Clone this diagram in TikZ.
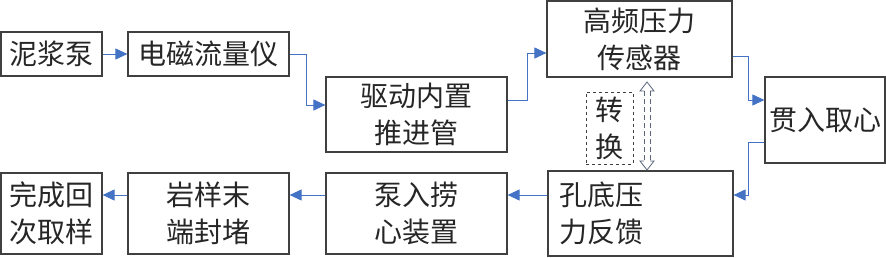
\documentclass[tikz,border=0pt]{standalone}
\usepackage{fontspec}
\newfontfamily\cjk{Noto Sans CJK SC}
\usetikzlibrary{arrows.meta}
\definecolor{conncol}{RGB}{68,114,196}
\definecolor{boxcol}{RGB}{64,64,64}
\definecolor{dblcol}{RGB}{90,100,125}
\tikzset{
  box/.style={draw=boxcol, line width=1.2pt, fill=white, inner sep=3pt, align=center,
    font=\cjk\fontsize{28}{37}\selectfont, text=black!85},
  conn/.style={draw=conncol, line width=1pt, -{Triangle[length=12pt,width=11pt]}},
  dashbox/.style={draw=boxcol, dashed, line width=0.9pt, align=center,
    font=\cjk\fontsize{28}{37}\selectfont, text=black!85},
  dbl/.style={draw=dblcol, line width=0.8pt}
}
\begin{document}
\begin{tikzpicture}[x=1pt,y=-1pt]
\useasboundingbox (0,0) rectangle (886,257);
\node[box, minimum width=101pt, minimum height=44pt] (pump) at (51.5,54) {泥浆泵};
\node[box, minimum width=161pt, minimum height=44pt] (flow) at (208.5,54) {电磁流量仪};
\node[box, minimum width=181pt, minimum height=75pt] (drive) at (416.5,114.5) {驱动内置\\推进管};
\node[box, minimum width=185pt, minimum height=76pt] (hf) at (639.5,39) {高频压力\\传感器};
\node[box, minimum width=120pt, minimum height=86pt] (core) at (825,120) {贯入取心};
\node[box, minimum height=81pt, text width=163pt, inner sep=11pt, align=left] (hole) at (640.5,213.5) {孔底压\\力反馈};
\node[box, minimum width=181pt, minimum height=81pt] (pumpin) at (416.5,213.5) {泵入捞\\心装置};
\node[box, minimum width=161pt, minimum height=81pt] (seal) at (208.5,213.5) {岩样末\\端封堵};
\node[box, minimum width=101pt, minimum height=81pt] (done) at (51.5,213.5) {完成回\\次取样};
\node[dashbox, minimum width=47pt, minimum height=72pt, inner sep=2pt] (conv) at (609.5,128) {转\\换};

\draw[conn] (pump.east) -- (flow.west);
\draw[conn] (flow.east) -- ++(17,0) |- ([yshift=9.5pt]drive.west);
\draw[conn] ([yshift=14.5pt]drive.east) -- ++(20,0) |- ([yshift=-14pt]hf.west);
\draw[conn] ([yshift=-17pt]hf.east) -- ++(16,0) |- ([yshift=20pt]core.west);
\draw[conn] ([yshift=-22pt]core.west) -- ++(-16,0) |- ([yshift=18.5pt]hole.east);
\draw[conn] ([yshift=18.5pt]hole.west) -- ([yshift=18.5pt]pumpin.east);
\draw[conn] ([yshift=18.5pt]pumpin.west) -- ([yshift=18.5pt]seal.east);
\draw[conn] ([yshift=18.5pt]seal.west) -- ([yshift=18.5pt]done.east);

% hollow double arrow
\coordinate (dt) at (647,82);
\coordinate (db) at (647,170);
\draw[dbl, dashed, dash pattern=on 5pt off 3pt] (644,91) -- (644,161);
\draw[dbl, dashed, dash pattern=on 5pt off 3pt] (650,91) -- (650,161);
\draw[dbl, line join=miter] (644,91) -- (640,91) -- (dt) -- (654,91) -- (650,91);
\draw[dbl, line join=miter] (644,161) -- (640,161) -- (db) -- (654,161) -- (650,161);
\end{tikzpicture}
\end{document}
